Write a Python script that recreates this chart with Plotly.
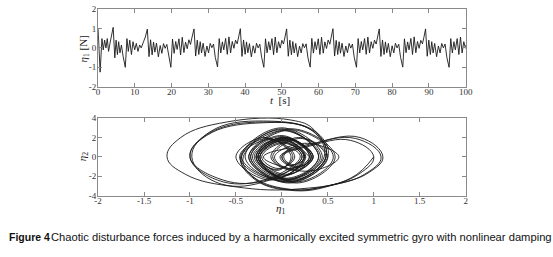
import plotly.graph_objects as go

# top panel: disturbance force eta1 over time (local extrema)
t_top = [
    0.00, 0.55, 1.05, 1.40, 1.78, 2.14, 2.50, 2.85, 3.30, 4.10, 4.55, 4.90, 5.25, 5.60, 5.95, 6.35,
    6.80, 7.40, 7.85, 8.22, 8.62, 9.07, 9.50, 9.96, 10.40, 10.85, 11.30, 11.74, 12.36, 12.85,
    13.40, 13.85, 14.28, 14.70, 15.08, 15.45, 15.88, 16.40, 16.90, 17.35, 17.80, 18.25, 18.70, 19.20,
    19.80, 20.25, 20.68, 21.12, 21.50, 22.00, 22.45, 22.90, 23.35, 23.80, 24.25, 24.70, 25.15, 25.55,
    26.10, 26.55, 26.98, 27.40, 27.78, 28.15, 28.58, 29.10, 29.60, 30.05, 30.50, 30.95, 31.40, 31.90,
    32.50, 32.95, 33.38, 33.82, 34.20, 34.70, 35.15, 35.60, 36.05, 36.50, 36.95, 37.40, 37.85, 38.25,
    38.70, 39.15, 39.58, 40.00, 40.38, 40.75, 41.18, 41.70, 42.20, 42.65, 43.10, 43.55, 44.00, 44.50,
    45.10, 45.55, 45.98, 46.42, 46.80, 47.30, 47.75, 48.20, 48.65, 49.10, 49.55, 50.00, 50.45, 50.85,
    51.30, 51.75, 52.18, 52.60, 52.98, 53.35, 53.78, 54.30, 54.80, 55.25, 55.70, 56.15, 56.60, 57.10,
    57.70, 58.15, 58.58, 59.02, 59.40, 59.90, 60.35, 60.80, 61.25, 61.70, 62.15, 62.60, 63.05, 63.45,
    63.90, 64.35, 64.78, 65.20, 65.58, 65.95, 66.38, 66.90, 67.40, 67.85, 68.30, 68.75, 69.20, 69.70,
    70.30, 70.75, 71.18, 71.62, 72.00, 72.50, 72.95, 73.40, 73.85, 74.30, 74.75, 75.20, 75.65, 76.05,
    76.50, 76.95, 77.38, 77.80, 78.18, 78.55, 78.98, 79.50, 80.00, 80.45, 80.90, 81.35, 81.80, 82.30,
    82.90, 83.35, 83.78, 84.22, 84.60, 85.10, 85.55, 86.00, 86.45, 86.90, 87.35, 87.80, 88.25, 88.65,
    89.10, 89.55, 89.98, 90.40, 90.78, 91.15, 91.58, 92.10, 92.60, 93.05, 93.50, 93.95, 94.40, 94.90,
    95.50, 95.95, 96.38, 96.82, 97.20, 97.70, 98.15, 98.60, 99.05, 99.50, 99.95, 100.00,
]
eta1_top = [
    1.00, -1.25, 0.48, -0.10, 0.40, 0.00, 0.48, -0.18, 0.30, 1.06, -0.51, 0.40, -0.34, 0.32, -0.26, 0.15,
    -0.43, -1.00, 0.48, -0.18, 0.40, -0.34, 0.32, -0.10, 0.23, -0.18, 0.15, 0.00, 0.32, 0.56,
    0.97, -0.45, 0.42, -0.36, 0.30, -0.22, 0.25, -0.46, 0.12, -0.28, 0.22, -0.02, 0.18, -0.48,
    -1.00, 0.46, -0.28, 0.33, -0.08, 0.47, -0.36, 0.55, -0.24, 0.30, -0.04, 0.42, 0.18, 0.55,
    0.98, -0.42, 0.40, -0.34, 0.32, -0.26, 0.24, -0.44, 0.10, -0.25, 0.23, 0.01, 0.20, -0.50,
    -0.98, 0.48, -0.26, 0.31, -0.10, 0.49, -0.33, 0.57, -0.26, 0.33, -0.02, 0.40, 0.21, 0.57,
    0.99, -0.44, 0.41, -0.33, 0.31, -0.25, 0.22, -0.46, 0.11, -0.27, 0.24, 0.00, 0.19, -0.49,
    -1.00, 0.47, -0.25, 0.32, -0.11, 0.48, -0.35, 0.56, -0.25, 0.32, -0.01, 0.39, 0.20, 0.56,
    0.98, -0.43, 0.40, -0.35, 0.33, -0.26, 0.23, -0.45, 0.09, -0.26, 0.22, 0.01, 0.21, -0.51,
    -0.99, 0.49, -0.27, 0.32, -0.09, 0.47, -0.34, 0.55, -0.27, 0.31, -0.03, 0.41, 0.19, 0.57,
    0.99, -0.42, 0.39, -0.34, 0.32, -0.27, 0.24, -0.44, 0.10, -0.25, 0.23, -0.01, 0.20, -0.50,
    -1.00, 0.48, -0.26, 0.33, -0.10, 0.48, -0.33, 0.56, -0.26, 0.32, -0.02, 0.40, 0.20, 0.56,
    0.98, -0.44, 0.41, -0.34, 0.31, -0.25, 0.23, -0.45, 0.11, -0.26, 0.24, 0.00, 0.19, -0.49,
    -0.99, 0.47, -0.25, 0.31, -0.10, 0.49, -0.34, 0.57, -0.25, 0.33, -0.02, 0.39, 0.21, 0.55,
    0.98, -0.43, 0.40, -0.34, 0.32, -0.26, 0.23, -0.45, 0.10, -0.26, 0.23, 0.00, 0.20, -0.50,
    -1.00, 0.48, -0.26, 0.32, -0.10, 0.48, -0.34, 0.56, -0.26, 0.32, -0.02, 0.15,
]

# bottom panel: phase portrait eta1 vs eta2 (key points of the loops)
phase_eta1 = [
    1.00, 0.75, 0.20, -0.50, -1.05, -1.25, -1.10, -0.60, 0.10, 0.35, 0.48,
    0.05, -0.40, 0.00, 0.40, 0.03, -0.34, 0.00, 0.32, 0.03, -0.26, 0.00, 0.25,
    -0.10, -0.46, -0.15, 0.12, -0.06, -0.26, 0.00, 0.22, 0.10, 0.00, 0.10, 0.20,
    -0.20, -0.70, -1.00, -0.80, -0.20, 0.35, 0.48,
    0.10, -0.26, 0.03, 0.32, 0.10, -0.10, 0.20, 0.48, 0.07, -0.34, 0.10, 0.56,
    0.15, -0.26, 0.03, 0.32, 0.15, -0.02, 0.30, 0.80, 1.08, 0.90, 0.50, 0.10, -0.30, -0.42,
    0.02, 0.42, 0.02, -0.36, 0.00, 0.30, 0.00, -0.28, 0.00, 0.24, -0.12, -0.50, -0.18, 0.10,
    -0.05, -0.24, 0.02, 0.25, 0.12, 0.02, 0.12, 0.22,
    -0.20, -0.72, -0.98, -0.78, -0.20, 0.38, 0.50,
    0.12, -0.28, 0.02, 0.34, 0.12, -0.12, 0.18, 0.50, 0.08, -0.36, 0.10, 0.58,
    0.16, -0.28, 0.02, 0.34, 0.16, 0.00, 0.30, 0.75, 1.00, 0.85, 0.45, 0.05, -0.32, -0.45,
    0.00, 0.44, 0.04, -0.32, 0.02, 0.34, 0.04, -0.24, 0.02, 0.26, -0.08, -0.44, -0.12, 0.14,
    -0.04, -0.22, 0.02, 0.24, -0.20, -0.70, -1.00, -0.82, -0.25, 0.33, 0.46,
    0.08, -0.24, 0.05, 0.30, 0.08, -0.08, 0.25, 0.62, 0.35, 0.00, -0.20,
    0.30, 0.85, 1.10, 0.95, 0.60, 0.15, -0.30, -0.44, 0.00, 0.40, 0.05, -0.30, 0.00, 0.30,
]
phase_eta2 = [
    0.0, -2.2, -3.3, -3.1, -1.8, 0.0, 2.0, 3.6, 3.8, 2.8, 0.0,
    -2.6, 0.0, 2.9, 0.0, -2.4, 0.0, 2.1, 0.0, -1.9, 0.0, 1.8, 0.0,
    -2.3, 0.0, 1.9, 0.0, -1.3, 0.0, 1.6, 0.0, -0.9, 0.0, 0.8, 0.0,
    -2.4, -2.4, 0.0, 2.4, 3.6, 2.6, 0.0,
    -2.4, 0.0, 1.9, 0.0, -1.3, 0.0, 1.9, 0.0, -2.6, 0.0, 2.8, 0.0,
    -2.6, 0.0, 1.9, 0.0, -1.1, 0.0, 1.2, 1.9, 0.0, -1.8, -3.0, -3.4, -2.2, 0.0,
    2.7, 0.0, -2.5, 0.0, 2.2, 0.0, -2.0, 0.0, 1.7, 0.0, -2.4, 0.0, 2.0, 0.0,
    -1.4, 0.0, 1.5, 0.0, -0.8, 0.0, 0.9, 0.0,
    -2.6, -2.6, 0.0, 2.6, 3.7, 2.5, 0.0,
    -2.5, 0.0, 2.0, 0.0, -1.4, 0.0, 2.0, 0.0, -2.7, 0.0, 2.9, 0.0,
    -2.7, 0.0, 2.0, 0.0, -1.0, 0.0, 1.1, 1.7, 0.0, -1.7, -3.1, -3.3, -2.0, 0.0,
    3.0, 0.0, -2.3, 0.0, 2.0, 0.0, -1.8, 0.0, 1.7, 0.0, -2.2, 0.0, 1.8, 0.0,
    -1.2, 0.0, 1.4, 0.0, -2.5, -2.2, 0.0, 2.2, 3.5, 2.7, 0.0,
    -2.3, 0.0, 1.8, 0.0, -1.2, 0.0, 1.4, 0.0, -1.4, -1.0, 0.0,
    1.3, 2.0, 0.0, -1.6, -2.8, -3.5, -2.3, 0.0, 2.8, 0.0, -2.2, 0.0, 1.9, 0.0,
]

top_xticks = [0, 10, 20, 30, 40, 50, 60, 70, 80, 90, 100]
top_yticks = [-2, -1, 0, 1, 2]
top_yticklabels = ["-2", "-1", "0", "1", "2"]
bot_xticks = [-2, -1.5, -1, -0.5, 0, 0.5, 1, 1.5, 2]
bot_xticklabels = ["-2", "-1.5", "-1", "-0.5", "0", "0.5", "1", "1.5", "2"]
bot_yticks = [-4, -2, 0, 2, 4]
bot_yticklabels = ["-4", "-2", "0", "2", "4"]

W, H = 553, 257
serif = "Liberation Serif, Times New Roman, serif"
ink = "#1a1a1a"

fig = go.Figure()
fig.add_trace(go.Scatter(x=t_top, y=eta1_top, mode="lines",
                         line=dict(color=ink, width=0.9), xaxis="x", yaxis="y"))
fig.add_trace(go.Scatter(x=phase_eta1, y=phase_eta2, mode="lines",
                         line=dict(color=ink, width=0.9, shape="spline", smoothing=1.2),
                         xaxis="x2", yaxis="y2"))

axis_style = dict(showline=True, linecolor="#8a8a8a", linewidth=1, mirror="ticks",
                  ticks="inside", ticklen=4, tickcolor="#8a8a8a", showgrid=False,
                  zeroline=False, tickfont=dict(family=serif, size=9, color="#333"))

x_dom = [96 / W, 471 / W]
fig.update_layout(
    width=W, height=H, margin=dict(l=0, r=0, t=0, b=0),
    paper_bgcolor="white", plot_bgcolor="white", showlegend=False,
    xaxis=dict(domain=x_dom, range=[0, 100], tickvals=top_xticks, anchor="y",
               ticklabelstandoff=-3, **axis_style),
    yaxis=dict(domain=[1 - 85 / H, 1 - 4.3 / H], range=[-2, 2], tickvals=top_yticks,
               ticktext=top_yticklabels, anchor="x", ticklabelstandoff=-1, **axis_style),
    xaxis2=dict(domain=x_dom, range=[-2, 2], tickvals=bot_xticks, ticktext=bot_xticklabels,
                anchor="y2", ticklabelstandoff=-3, **axis_style),
    yaxis2=dict(domain=[1 - 198.3 / H, 1 - 117.7 / H], range=[-4, 4], tickvals=bot_yticks,
                ticktext=bot_yticklabels, anchor="x2", ticklabelstandoff=-1, **axis_style),
)

label_font = dict(family=serif, size=11, color="#222")
labels = [
    (282, 99, "<i>t</i>  [s]", 0),
    (82, 46, "<i>η</i><sub>1</sub> [N]", -90),
    (80, 158, "<i>η</i><sub>2</sub>", -90),
    (282, 212, "<i>η</i><sub>1</sub>", 0),
]
for px, py, txt, ang in labels:
    fig.add_annotation(x=px / W, y=1 - py / H, xref="paper", yref="paper", showarrow=False,
                       xanchor="center", yanchor="middle", text=txt, textangle=ang,
                       font=label_font)

cap_font = "Liberation Sans, Arial, sans-serif"
fig.add_annotation(x=3 / W, y=1 - 241.5 / H, xref="paper", yref="paper", showarrow=False,
                   xanchor="left", yanchor="middle", text="<b>Figure 4</b>",
                   font=dict(family=cap_font, size=10.5, color="#111"))
fig.add_annotation(x=46 / W, y=1 - 241.5 / H, xref="paper", yref="paper", showarrow=False,
                   xanchor="left", yanchor="middle",
                   text="Chaotic disturbance forces induced by a harmonically excited symmetric gyro with nonlinear damping",
                   font=dict(family=cap_font, size=11.2, color="#111"))

fig.write_html("out.html", config={"displayModeBar": False},
               post_script="document.body.style.margin='0';")
